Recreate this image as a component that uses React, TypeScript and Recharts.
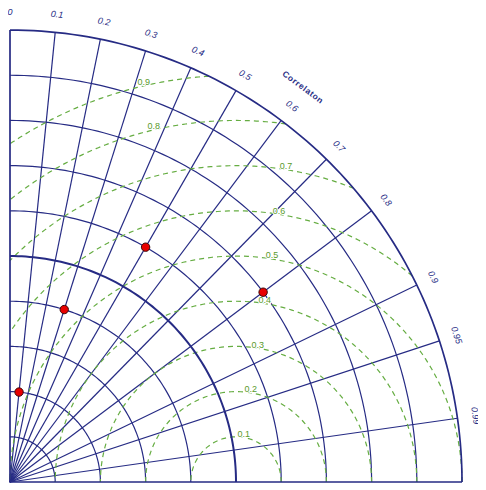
import React from 'react';
import { ScatterChart, Scatter, XAxis, YAxis } from 'recharts';

// Taylor diagram: std dev (normalised) on the radius, correlation on the angle
const correlationTicks = [0, 0.1, 0.2, 0.3, 0.4, 0.5, 0.6, 0.7, 0.8, 0.9, 0.95, 0.99];
const stdDevArcs = [0.1, 0.2, 0.3, 0.4, 0.6, 0.7, 0.8, 0.9];
const refStdDev = 0.5;
const maxStdDev = 1.0;
const rmsLevels = [0.1, 0.2, 0.3, 0.4, 0.5, 0.6, 0.7, 0.8, 0.9];
const modelStdDev = [0.2, 0.4, 0.6, 0.7];
const modelCorrelation = [0.1, 0.3, 0.5, 0.8];
const axisTitle = 'Correlaton';
const axisTitleCorrelation = 0.596;

const NAVY = '#262b84';
const GREEN = '#66ad42';
const GREEN_TEXT = '#5a9a2c';
const FONT = '"Liberation Sans", Arial, sans-serif';

// 452px per unit of std dev
const W = 478;
const H = 480;
const MARGIN = { top: 4, right: 2, bottom: 6, left: 2 };
const XMAX = 474 / 452;
const YMAX = 470 / 452;

const polar = (r: number, c: number) => ({ x: r * c, y: r * Math.sqrt(Math.max(0, 1 - c * c)) });

const arcPts = (r: number) => {
  const pts = [];
  for (let i = 0; i <= 90; i++) {
    const t = (i * Math.PI) / 180;
    pts.push({ x: r * Math.cos(t), y: r * Math.sin(t) });
  }
  return pts;
};

const rmsPts = (rho: number) => {
  const cMax = Math.min(1, (maxStdDev * maxStdDev - refStdDev * refStdDev - rho * rho) / (2 * refStdDev * rho));
  const cMin = Math.max(-1, -refStdDev / rho);
  const a0 = Math.acos(cMax);
  const a1 = Math.acos(cMin);
  const pts = [];
  const n = 120;
  for (let i = 0; i <= n; i++) {
    const t = a0 + ((a1 - a0) * i) / n;
    pts.push({ x: Math.max(0, refStdDev + rho * Math.cos(t)), y: rho * Math.sin(t) });
  }
  return pts;
};

const NoDot = () => <g />;

const corrLabelData = correlationTicks.map((c) => {
  const p = polar(1.04 * maxStdDev, c);
  return { ...p, label: String(c), rot: 90 - (Math.acos(c) * 180) / Math.PI };
});

const titleData = [
  { ...polar(1.088 * maxStdDev, axisTitleCorrelation), label: axisTitle, rot: 90 - (Math.acos(axisTitleCorrelation) * 180) / Math.PI },
];

const rmsLabelData = rmsLevels.map((rho) => {
  const t = ((rho <= 0.7 ? 81 : 103) * Math.PI) / 180;
  const rr = rho + 0.008;
  return { x: refStdDev + rr * Math.cos(t), y: rr * Math.sin(t), label: String(rho) };
});

const modelData = modelStdDev.map((s, i) => polar(s, modelCorrelation[i]));

const CorrLabel = (p: any) => (
  <text
    x={p.cx}
    y={p.cy}
    transform={`rotate(${p.payload.rot} ${p.cx} ${p.cy})`}
    textAnchor="middle"
    dominantBaseline="central"
    fontFamily={FONT}
    fontSize={9}
    fontStyle="italic"
    fill={NAVY}
  >
    {p.payload.label}
  </text>
);

const TitleLabel = (p: any) => (
  <text
    x={p.cx}
    y={p.cy}
    transform={`rotate(${p.payload.rot} ${p.cx} ${p.cy})`}
    textAnchor="middle"
    dominantBaseline="central"
    fontFamily={FONT}
    fontSize={8.5}
    fontWeight="bold"
    letterSpacing={0.6}
    fill={NAVY}
  >
    {p.payload.label}
  </text>
);

const RmsLabel = (p: any) => (
  <text
    x={p.cx}
    y={p.cy}
    textAnchor="middle"
    dominantBaseline="central"
    fontFamily={FONT}
    fontSize={9}
    fill={GREEN_TEXT}
    stroke="#ffffff"
    strokeWidth={2}
    paintOrder="stroke"
  >
    {p.payload.label}
  </text>
);

const ModelDot = (p: any) => <circle cx={p.cx} cy={p.cy} r={4.2} fill="#e80000" stroke="#3a0a0a" strokeWidth={1} />;

export default function App() {
  return (
    <ScatterChart width={W} height={H} margin={MARGIN}>
      <XAxis type="number" dataKey="x" domain={[0, XMAX]} hide />
      <YAxis type="number" dataKey="y" domain={[0, YMAX]} hide />

      {stdDevArcs.map((r) => (
        <Scatter key={`sd-${r}`} data={arcPts(r)} line={{ stroke: NAVY, strokeWidth: 1.2 }} shape={NoDot} isAnimationActive={false} />
      ))}

      {correlationTicks.slice(1).map((c) => (
        <Scatter
          key={`cc-${c}`}
          data={[{ x: 0, y: 0 }, polar(maxStdDev, c)]}
          line={{ stroke: NAVY, strokeWidth: 1.2 }}
          shape={NoDot}
          isAnimationActive={false}
        />
      ))}

      {rmsLevels.map((rho) => (
        <Scatter
          key={`rms-${rho}`}
          data={rmsPts(rho)}
          line={{ stroke: GREEN, strokeWidth: 1.2, strokeDasharray: '5 4' }}
          shape={NoDot}
          isAnimationActive={false}
        />
      ))}

      <Scatter data={arcPts(refStdDev)} line={{ stroke: NAVY, strokeWidth: 2 }} shape={NoDot} isAnimationActive={false} />
      <Scatter data={arcPts(maxStdDev)} line={{ stroke: NAVY, strokeWidth: 1.7 }} shape={NoDot} isAnimationActive={false} />
      <Scatter
        data={[{ x: 0, y: maxStdDev }, { x: 0, y: 0 }, { x: maxStdDev, y: 0 }]}
        line={{ stroke: NAVY, strokeWidth: 1.7 }}
        shape={NoDot}
        isAnimationActive={false}
      />

      <Scatter data={corrLabelData} shape={CorrLabel} isAnimationActive={false} />
      <Scatter data={titleData} shape={TitleLabel} isAnimationActive={false} />
      <Scatter data={rmsLabelData} shape={RmsLabel} isAnimationActive={false} />
      <Scatter data={modelData} shape={ModelDot} isAnimationActive={false} />
    </ScatterChart>
  );
}
